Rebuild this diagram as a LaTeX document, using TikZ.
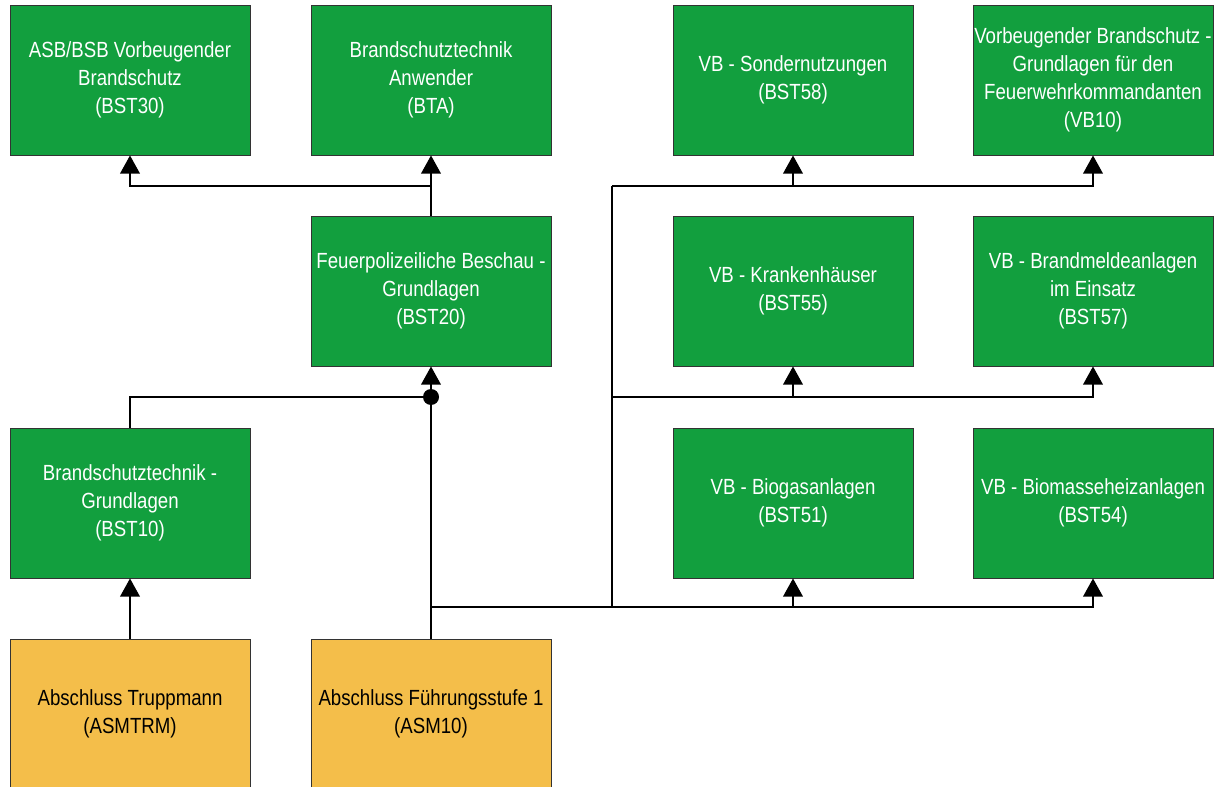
\documentclass[tikz,border=0pt]{standalone}
\usepackage{fontspec}
\setmainfont{Liberation Sans}[FakeStretch=0.85]
\usepackage{tikz}
\usetikzlibrary{arrows.meta}

\definecolor{kursgruen}{HTML}{129F3E}
\definecolor{abschluss}{HTML}{F4BE4A}

\begin{document}
\begin{tikzpicture}[x=0.025cm, y=-0.025cm,
    kurs/.style={draw=black!80, line width=0.6pt, fill=kursgruen, text=white,
        minimum width=6cm, minimum height=3.75cm, align=center, inner xsep=0pt,
        font=\fontsize{15.6}{20}\selectfont},
    asm/.style={kurs, fill=abschluss, text=black},
    arr/.style={line width=1.4pt, -{Triangle[width=14pt, length=13pt]}},
    lin/.style={line width=1.4pt}]
    \useasboundingbox (0, 0) rectangle (1217, 787);

    \node[kurs] (bst30) at (130, 80) {ASB/BSB Vorbeugender\\Brandschutz\\(BST30)};
    \node[kurs] (bta) at (431, 80) {Brandschutztechnik\\Anwender\\(BTA)};
    \node[kurs] (bst58) at (793, 80) {VB - Sondernutzungen\\(BST58)};
    \node[kurs] (vb10) at (1093, 80) {Vorbeugender Brandschutz -\\Grundlagen f\"ur den\\Feuerwehrkommandanten\\(VB10)};

    \node[kurs] (bst20) at (431, 291) {Feuerpolizeiliche Beschau -\\Grundlagen\\(BST20)};
    \node[kurs] (bst55) at (793, 291) {VB - Krankenh\"auser\\(BST55)};
    \node[kurs] (bst57) at (1093, 291) {VB - Brandmeldeanlagen\\im Einsatz\\(BST57)};

    \node[kurs] (bst10) at (130, 503) {Brandschutztechnik -\\Grundlagen\\(BST10)};
    \node[kurs] (bst51) at (793, 503) {VB - Biogasanlagen\\(BST51)};
    \node[kurs] (bst54) at (1093, 503) {VB - Biomasseheizanlagen\\(BST54)};

    \node[asm] (asmtrm) at (130, 714) {Abschluss Truppmann\\(ASMTRM)};
    \node[asm] (asm10) at (431, 714) {Abschluss F\"uhrungsstufe 1\\(ASM10)};

    \coordinate (jtop) at (612, 186);
    \coordinate (jmid) at (612, 397);
    \coordinate (jbot) at (612, 607);
    \coordinate (knoten) at (431, 397);

    \draw[arr] (bst20.north) -- (bta.south);
    \draw[arr] (bst20.north |- jtop) -| (bst30.south);
    \draw[arr] (bst10.north) |- (knoten) -- (bst20.south);
    \draw[lin] (asm10.north) -- (knoten);
    \fill (knoten) circle (8);
    \draw[arr] (asmtrm.north) -- (bst10.south);

    \draw[arr] (asm10.north |- jbot) -| (bst54.south);
    \draw[arr] (jbot -| bst51.south) -- (bst51.south);
    \draw[lin] (jbot) -- (jtop);
    \draw[arr] (jmid) -| (bst57.south);
    \draw[arr] (jmid -| bst55.south) -- (bst55.south);
    \draw[arr] (jtop) -| (vb10.south);
    \draw[arr] (jtop -| bst58.south) -- (bst58.south);
\end{tikzpicture}
\end{document}
